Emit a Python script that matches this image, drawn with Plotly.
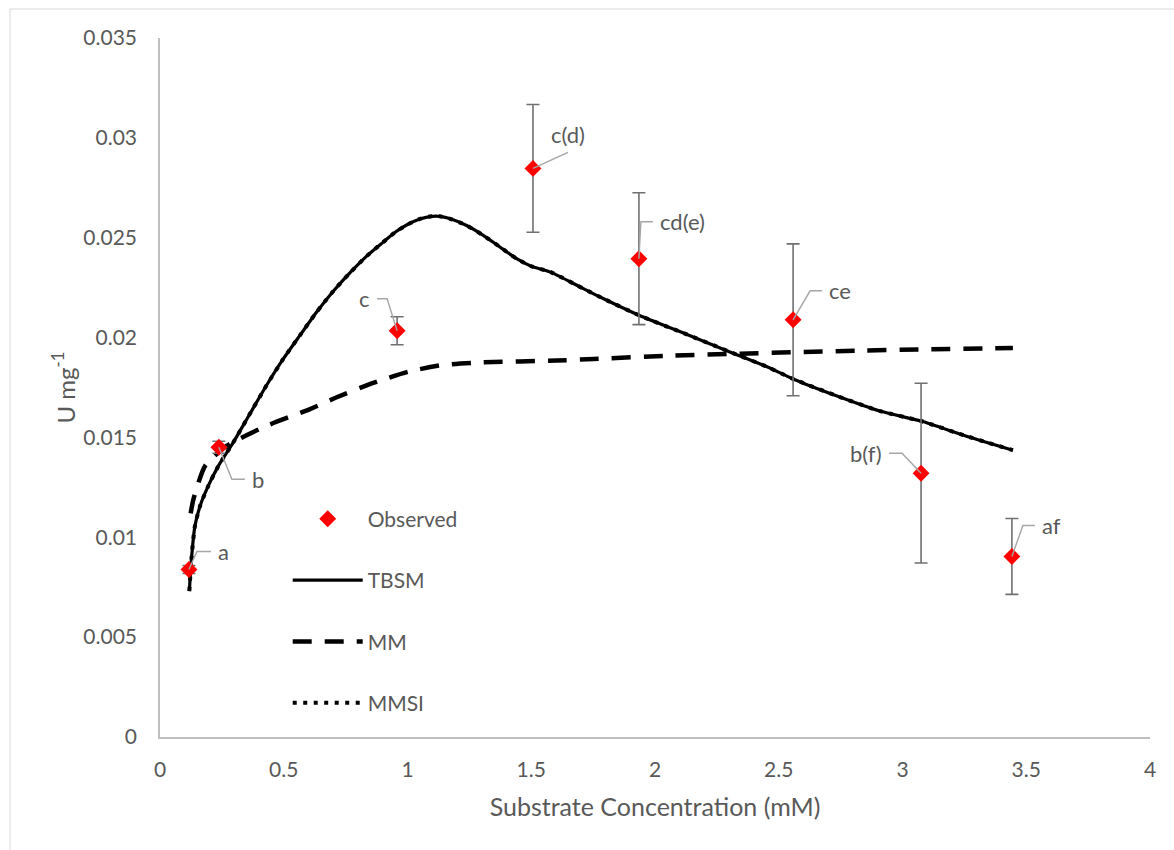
import plotly.graph_objects as go

# ---------------- data ----------------
obs_x = [0.117, 0.238, 0.958, 1.507, 1.935, 2.558, 3.075, 3.442]
obs_y = [0.00839, 0.01451, 0.02034, 0.02847, 0.02395, 0.02089, 0.01321, 0.00904]
obs_err = [0.0002, 0.0003, 0.0007, 0.0032, 0.0033, 0.0038, 0.0045, 0.0019]
obs_labels = ["a", "b", "c", "c(d)", "cd(e)", "ce", "b(f)", "af"]

tbsm_x = [0.1185, 0.128, 0.141, 0.162, 0.195, 0.235, 0.296, 0.364, 0.43, 0.498,
          0.566, 0.633, 0.70, 0.768, 0.835, 0.902, 0.95, 1.0, 1.05, 1.09,
          1.13, 1.17, 1.239, 1.306, 1.372, 1.441, 1.50, 1.576, 1.678, 1.778,
          1.94, 2.10, 2.303, 2.45, 2.558, 2.73, 2.909, 3.075, 3.25, 3.446]
tbsm_y = [0.0073, 0.00905, 0.01056, 0.01157, 0.01257, 0.01355, 0.01475, 0.0162, 0.0176, 0.01893,
          0.02012, 0.02128, 0.02232, 0.02325, 0.02408, 0.02478, 0.02527, 0.02566, 0.02594, 0.02606,
          0.02607, 0.02596, 0.02561, 0.02512, 0.02455, 0.02395, 0.02357, 0.02329, 0.02266, 0.02203,
          0.02109, 0.02030, 0.01928, 0.01855, 0.01793, 0.01710, 0.01632, 0.01582, 0.01510, 0.01436]

mm_x = [0.124, 0.135, 0.182, 0.269, 0.431, 0.606, 0.714, 0.862, 1.003, 1.145,
        1.306, 1.603, 1.751, 2.074, 2.842, 3.446]
mm_y = [0.0112, 0.0119, 0.01357, 0.01458, 0.01558, 0.01642, 0.01701, 0.01773, 0.01829, 0.01863,
        0.01876, 0.01885, 0.01893, 0.0191, 0.01935, 0.01948]

# MMSI fit coincides with the TBSM curve in the picture
mmsi_x = [0.1185, 0.128, 0.141, 0.162, 0.195, 0.235, 0.296, 0.364, 0.43, 0.498,
          0.566, 0.633, 0.70, 0.768, 0.835, 0.902, 0.95, 1.0, 1.05, 1.09,
          1.13, 1.17, 1.239, 1.306, 1.372, 1.441, 1.50, 1.576, 1.678, 1.778,
          1.94, 2.10, 2.303, 2.45, 2.558, 2.73, 2.909, 3.075, 3.25, 3.446]
mmsi_y = [0.0073, 0.00905, 0.01056, 0.01157, 0.01257, 0.01355, 0.01475, 0.0162, 0.0176, 0.01893,
          0.02012, 0.02128, 0.02232, 0.02325, 0.02408, 0.02478, 0.02527, 0.02566, 0.02594, 0.02606,
          0.02607, 0.02596, 0.02561, 0.02512, 0.02455, 0.02395, 0.02357, 0.02329, 0.02266, 0.02203,
          0.02109, 0.02030, 0.01928, 0.01855, 0.01793, 0.01710, 0.01632, 0.01582, 0.01510, 0.01436]

x_tick_vals = [0, 0.5, 1, 1.5, 2, 2.5, 3, 3.5, 4]
x_tick_text = ["0", "0.5", "1", "1.5", "2", "2.5", "3", "3.5", "4"]
y_tick_vals = [0, 0.005, 0.01, 0.015, 0.02, 0.025, 0.03, 0.035]
y_tick_text = ["0", "0.005", "0.01", "0.015", "0.02", "0.025", "0.03", "0.035"]

# ---------------- style ----------------
FONT = "Lato"
TXT = "#595959"
LEAD = "#a6a6a6"
# label leader geometry (screen pixels, y down): elbow offset, horizontal run, text side
label_style = [
    dict(ex=8, ey=-18, h=14, side="right"),
    dict(ex=13, ey=32, h=13, side="right"),
    dict(ex=-10, ey=-32, h=-10, side="left"),
    dict(ex=35, ey=-16, h=0, side="top"),
    dict(ex=2, ey=-37, h=12, side="right"),
    dict(ex=17, ey=-29, h=12, side="right"),
    dict(ex=-19, ey=-20, h=-13, side="left"),
    dict(ex=11, ey=-31, h=12, side="right"),
]

fig = go.Figure()

fig.add_trace(go.Scatter(
    x=tbsm_x, y=tbsm_y, mode="lines", name="TBSM", legendgroup="g2",
    line=dict(color="black", width=3.2, shape="spline", smoothing=0.6), legendrank=2))
fig.add_trace(go.Scatter(
    x=mm_x, y=mm_y, mode="lines", name="MM", legendgroup="g3",
    line=dict(color="black", width=4.5, dash="19px,13px", shape="spline", smoothing=0.6), legendrank=3))
fig.add_trace(go.Scatter(
    x=mmsi_x, y=mmsi_y, mode="lines", name="MMSI", legendgroup="g4",
    line=dict(color="black", width=4, dash="4px,6.5px", shape="spline", smoothing=0.6), legendrank=4))
fig.add_trace(go.Scatter(
    x=obs_x, y=obs_y, mode="markers", name="Observed", legendgroup="g1",
    marker=dict(symbol="diamond", color="#ff0000", size=13, line=dict(width=0)),
    error_y=dict(type="data", array=obs_err, visible=True, color="#707070", thickness=1.6, width=6.5),
    legendrank=1))

annotations = []
shapes = [dict(type="rect", xref="paper", yref="paper",
               x0=-0.1515, x1=1.05, y0=-0.2, y1=1.0415,
               line=dict(color="#d9d9d9", width=1), layer="below")]
lab_font = dict(family=FONT, size=22, color=TXT)
for x, y, lab, st in zip(obs_x, obs_y, obs_labels, label_style):
    ex, ey, h = st["ex"], st["ey"], st["h"]
    path = f"M0,0 L{ex},{-ey}"
    if h != 0:
        path += f" L{ex + h},{-ey}"
    shapes.append(dict(type="path", xref="x", yref="y", xsizemode="pixel", ysizemode="pixel",
                       xanchor=x, yanchor=y, path=path, layer="above",
                       line=dict(color=LEAD, width=1.4)))
    if st["side"] == "right":
        annotations.append(dict(x=x, y=y, xref="x", yref="y", text=lab, showarrow=False,
                                xanchor="left", yanchor="middle",
                                xshift=ex + h + 5, yshift=-ey, font=lab_font))
    elif st["side"] == "left":
        annotations.append(dict(x=x, y=y, xref="x", yref="y", text=lab, showarrow=False,
                                xanchor="right", yanchor="middle",
                                xshift=ex + h - 5, yshift=-ey, font=lab_font))
    else:
        annotations.append(dict(x=x, y=y, xref="x", yref="y", text=lab, showarrow=False,
                                xanchor="center", yanchor="bottom",
                                xshift=ex, yshift=-ey + 2, font=lab_font))

# y axis title placed as text to match the reference position
annotations.append(dict(x=-0.098, y=0.5, xref="paper", yref="paper", text="U mg<sup>-1</sup>",
                        showarrow=False, textangle=-90, xanchor="center", yanchor="middle",
                        font=dict(family=FONT, size=24, color=TXT)))

fig.update_layout(
    width=1174, height=850,
    margin=dict(l=160, r=24, t=38, b=113),
    paper_bgcolor="white", plot_bgcolor="white",
    font=dict(family=FONT, size=21, color=TXT),
    showlegend=True,
    legend=dict(x=0.129, y=0.341, xanchor="left", yanchor="top",
                bgcolor="rgba(0,0,0,0)", font=dict(family=FONT, size=21, color=TXT),
                itemwidth=70, tracegroupgap=31, traceorder="grouped"),
    annotations=annotations,
    shapes=shapes,
)
fig.update_xaxes(range=[0, 4], tickvals=x_tick_vals, ticktext=x_tick_text,
                 showline=True, linecolor="#bfbfbf", linewidth=1.5, showgrid=False,
                 zeroline=False, ticks="", ticklabelstandoff=13,
                 tickfont=dict(family=FONT, size=21, color=TXT),
                 title=dict(text="Substrate Concentration (mM)", standoff=19,
                            font=dict(family=FONT, size=25, color=TXT)))
fig.update_yaxes(range=[0, 0.035], tickvals=y_tick_vals, ticktext=y_tick_text,
                 showline=True, linecolor="#bfbfbf", linewidth=1.5, showgrid=False,
                 zeroline=False, ticks="", ticklabelstandoff=17,
                 tickfont=dict(family=FONT, size=21, color=TXT))

fig.write_html("out.html")
